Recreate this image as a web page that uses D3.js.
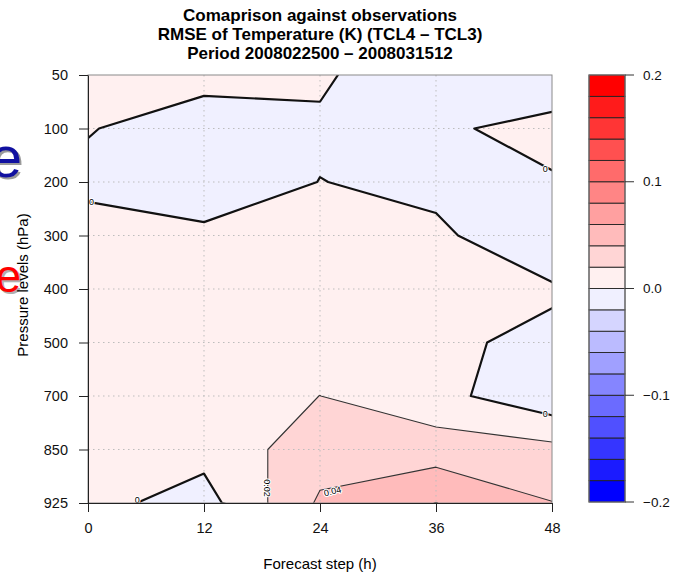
<!DOCTYPE html>
<html>
<head>
<meta charset="utf-8">
<script src="https://cdn.jsdelivr.net/npm/d3@7"></script>
<style>
body { margin: 0; background: #fff; }
svg { display: block; font-family: "Liberation Sans", Arial, sans-serif; }
</style>
</head>
<body>
<div id="chart"></div>
<script>
// chart text and data
let titleLines = [
    'Comaprison against observations',
    'RMSE of Temperature (K) (TCL4 \u2013 TCL3)',
    'Period 2008022500 \u2013 2008031512'
];
let xTitle = 'Forecast step (h)';
let yTitle = 'Pressure levels (hPa)';

let steps = [0, 12, 24, 36, 48];
let levels = [50, 100, 200, 300, 400, 500, 700, 850, 925];

// RMSE difference TCL4 - TCL3 (K): one row per level, one value per step
let rmseDiff = [
    [0.005, 0.00914, 0.003, -0.0164, -0.01335],
    [0.0015, -0.0143, -0.003, -0.00296, 0.006],
    [-0.00683, -0.012, 0.0003, -0.004, -0.00169],
    [0.0116, 0.004, 0.008, 0.0029, -0.01236],
    [0.012, 0.008, 0.01, 0.005, 0.00185],
    [0.012, 0.01, 0.012, 0.00259, -0.00329],
    [0.012, 0.01, 0.0201, 0.00617, -0.0144],
    [0.01, 0.00644, 0.0311, 0.0300, 0.0256],
    [0.00569, -0.00785, 0.0428, 0.0603, 0.0405]
];

// colour bar
let colorTicks = [0.2, 0.1, 0.0, -0.1, -0.2];
let colorTickLabels = ['0.2', '0.1', '0.0', '\u22120.1', '\u22120.2'];
let lineLevels = [0, 0.02, 0.04, 0.06];

// contour labels (step, fractional level index)
let labelText = ['0', '0', '0', '0', '0.02', '0.04'];
let labelStep = [0.35, 47.3, 47.3, 5.1, 18.5, 25.3];
let labelLevel = [2.37, 1.76, 6.33, 7.95, 7.72, 7.78];
let labelAngle = [0, 0, 0, 0, 90, -14];

// svg size and plot box
let svgWidth = 673;
let svgHeight = 576;
let plot = { left: 88, top: 75, right: 552, bottom: 503 };

let svg = d3.select('#chart').append('svg')
    .attr('width', svgWidth)
    .attr('height', svgHeight);

// scales
let xScale = d3.scaleLinear().domain([steps[0], steps[steps.length - 1]]).range([plot.left, plot.right]);
let yScale = d3.scalePoint().domain(levels).range([plot.top, plot.bottom]);
let yIndex = d3.scaleLinear().domain([0, levels.length - 1]).range([plot.top, plot.bottom]);
let stepGap = steps[1] - steps[0];

// colour for each 0.02 bin
let thresholds = d3.range(20).map(i => +(-0.2 + 0.02 * i).toFixed(2));
let redRamp = d3.interpolateRgb('#fff0f0', '#ff0000');
let blueRamp = d3.interpolateRgb('#f0f0ff', '#0000ff');
function binColor(i) {
    if (i >= 10) {
        return redRamp((i - 10) / 9);
    }
    return blueRamp((9 - i) / 9);
}

// shifted-off text fragments at the left edge
let leftBits = svg.append('g');
leftBits.append('text').attr('x', 24).attr('y', 179).attr('text-anchor', 'end')
    .attr('font-size', 58).attr('fill', '#9a9a9a').text('e');
leftBits.append('text').attr('x', 22).attr('y', 177).attr('text-anchor', 'end')
    .attr('font-size', 58).attr('fill', '#1010a0').text('e');
leftBits.append('text').attr('x', 23).attr('y', 294).attr('text-anchor', 'end')
    .attr('font-size', 46).attr('fill', '#b0b0b0').text('e');
leftBits.append('text').attr('x', 21).attr('y', 292).attr('text-anchor', 'end')
    .attr('font-size', 46).attr('fill', '#ff0000').text('e');

// title
svg.append('g').selectAll('text')
    .data(titleLines)
    .enter()
    .append('text')
    .attr('x', (plot.left + plot.right) / 2)
    .attr('y', (d, i) => 21 + i * 19)
    .attr('text-anchor', 'middle')
    .attr('font-size', 17)
    .attr('font-weight', 'bold')
    .text(d => d);

// clip to plot box
svg.append('defs').append('clipPath').attr('id', 'plotClip')
    .append('rect')
    .attr('x', plot.left).attr('y', plot.top)
    .attr('width', plot.right - plot.left).attr('height', plot.bottom - plot.top);

// contours on the step x level grid
let values = rmseDiff.flat();
let contours = d3.contours()
    .size([steps.length, levels.length])
    .thresholds(thresholds)(values);

let gridProj = d3.geoTransform({
    point: function(x, y) {
        this.stream.point(xScale(steps[0] + (x - 0.5) * stepGap), yIndex(y - 0.5));
    }
});
let path = d3.geoPath(gridProj);

let plotGroup = svg.append('g').attr('clip-path', 'url(#plotClip)');

plotGroup.append('g').selectAll('path')
    .data(contours)
    .enter()
    .append('path')
    .attr('d', path)
    .attr('fill', (d, i) => binColor(i))
    .attr('stroke', 'none');

// dotted grid
plotGroup.append('g').selectAll('line')
    .data(levels.slice(1, -1))
    .enter()
    .append('line')
    .attr('x1', plot.left).attr('x2', plot.right)
    .attr('y1', d => yScale(d)).attr('y2', d => yScale(d))
    .attr('stroke', '#bdbdbd').attr('stroke-dasharray', '1.5,3.5');
plotGroup.append('g').selectAll('line')
    .data(steps.slice(1, -1))
    .enter()
    .append('line')
    .attr('y1', plot.top).attr('y2', plot.bottom)
    .attr('x1', d => xScale(d)).attr('x2', d => xScale(d))
    .attr('stroke', '#bdbdbd').attr('stroke-dasharray', '1.5,3.5');

// contour lines
let lineContours = d3.contours()
    .size([steps.length, levels.length])
    .thresholds(lineLevels)(values);
plotGroup.append('g').selectAll('path')
    .data(lineContours)
    .enter()
    .append('path')
    .attr('d', path)
    .attr('fill', 'none')
    .attr('stroke', d => d.value === 0 ? '#111' : '#333')
    .attr('stroke-width', d => d.value === 0 ? 2.2 : 1.1)
    .attr('stroke-linejoin', 'round');

// contour labels
plotGroup.append('g').selectAll('text')
    .data(labelText)
    .enter()
    .append('text')
    .attr('transform', (d, i) => `translate(${xScale(labelStep[i])}, ${yIndex(labelLevel[i])}) rotate(${labelAngle[i]})`)
    .attr('text-anchor', 'middle')
    .attr('dy', '0.35em')
    .attr('font-size', 9)
    .attr('fill', '#000')
    .attr('stroke', '#fff')
    .attr('stroke-width', 2)
    .attr('paint-order', 'stroke')
    .text(d => d);

// frame
svg.append('rect')
    .attr('x', plot.left).attr('y', plot.top)
    .attr('width', plot.right - plot.left).attr('height', plot.bottom - plot.top)
    .attr('fill', 'none').attr('stroke', '#8a8a8a');

// axes
let leftAxis = d3.axisLeft(yScale).tickSize(9).tickSizeOuter(0).tickPadding(11);
let bottomAxis = d3.axisBottom(xScale).tickValues(steps).tickSize(9).tickSizeOuter(0).tickPadding(11);

let yAppend = svg.append('g')
    .attr('transform', `translate(${plot.left}, 0)`)
    .call(leftAxis);
let xAppend = svg.append('g')
    .attr('transform', `translate(0, ${plot.bottom})`)
    .call(bottomAxis);
[yAppend, xAppend].forEach(function(ax) {
    ax.selectAll('path, line').attr('stroke', '#222');
    ax.selectAll('text').attr('font-size', 14.5).attr('fill', '#111')
        .attr('font-family', '"Liberation Sans", Arial, sans-serif');
});

// axis titles
svg.append('text')
    .attr('x', (plot.left + plot.right) / 2)
    .attr('y', 569)
    .attr('text-anchor', 'middle')
    .attr('font-size', 15)
    .text(xTitle);
svg.append('text')
    .attr('transform', `translate(28, ${(plot.top + plot.bottom) / 2 - 4}) rotate(-90)`)
    .attr('text-anchor', 'middle')
    .attr('font-size', 15)
    .text(yTitle);

// colour bar
let bar = { left: 589, right: 625 };
let cScale = d3.scaleLinear().domain([-0.2, 0.2]).range([plot.bottom - 1, plot.top]);
let barGroup = svg.append('g');
barGroup.selectAll('rect')
    .data(thresholds)
    .enter()
    .append('rect')
    .attr('x', bar.left)
    .attr('width', bar.right - bar.left)
    .attr('y', d => cScale(d + 0.02))
    .attr('height', d => cScale(d) - cScale(d + 0.02))
    .attr('fill', (d, i) => binColor(i))
    .attr('stroke', '#222')
    .attr('stroke-width', 0.9);
barGroup.append('rect')
    .attr('x', bar.left).attr('y', cScale(0.2))
    .attr('width', bar.right - bar.left).attr('height', cScale(-0.2) - cScale(0.2))
    .attr('fill', 'none').attr('stroke', '#777');
barGroup.selectAll('line')
    .data(colorTicks)
    .enter()
    .append('line')
    .attr('x1', bar.right).attr('x2', bar.right + 9)
    .attr('y1', d => cScale(d)).attr('y2', d => cScale(d))
    .attr('stroke', '#333');
barGroup.selectAll('text')
    .data(colorTickLabels)
    .enter()
    .append('text')
    .attr('x', bar.right + 18)
    .attr('y', (d, i) => cScale(colorTicks[i]))
    .attr('dy', '0.35em')
    .attr('font-size', 13.5)
    .attr('fill', '#111')
    .text(d => d);
</script>
</body>
</html>
